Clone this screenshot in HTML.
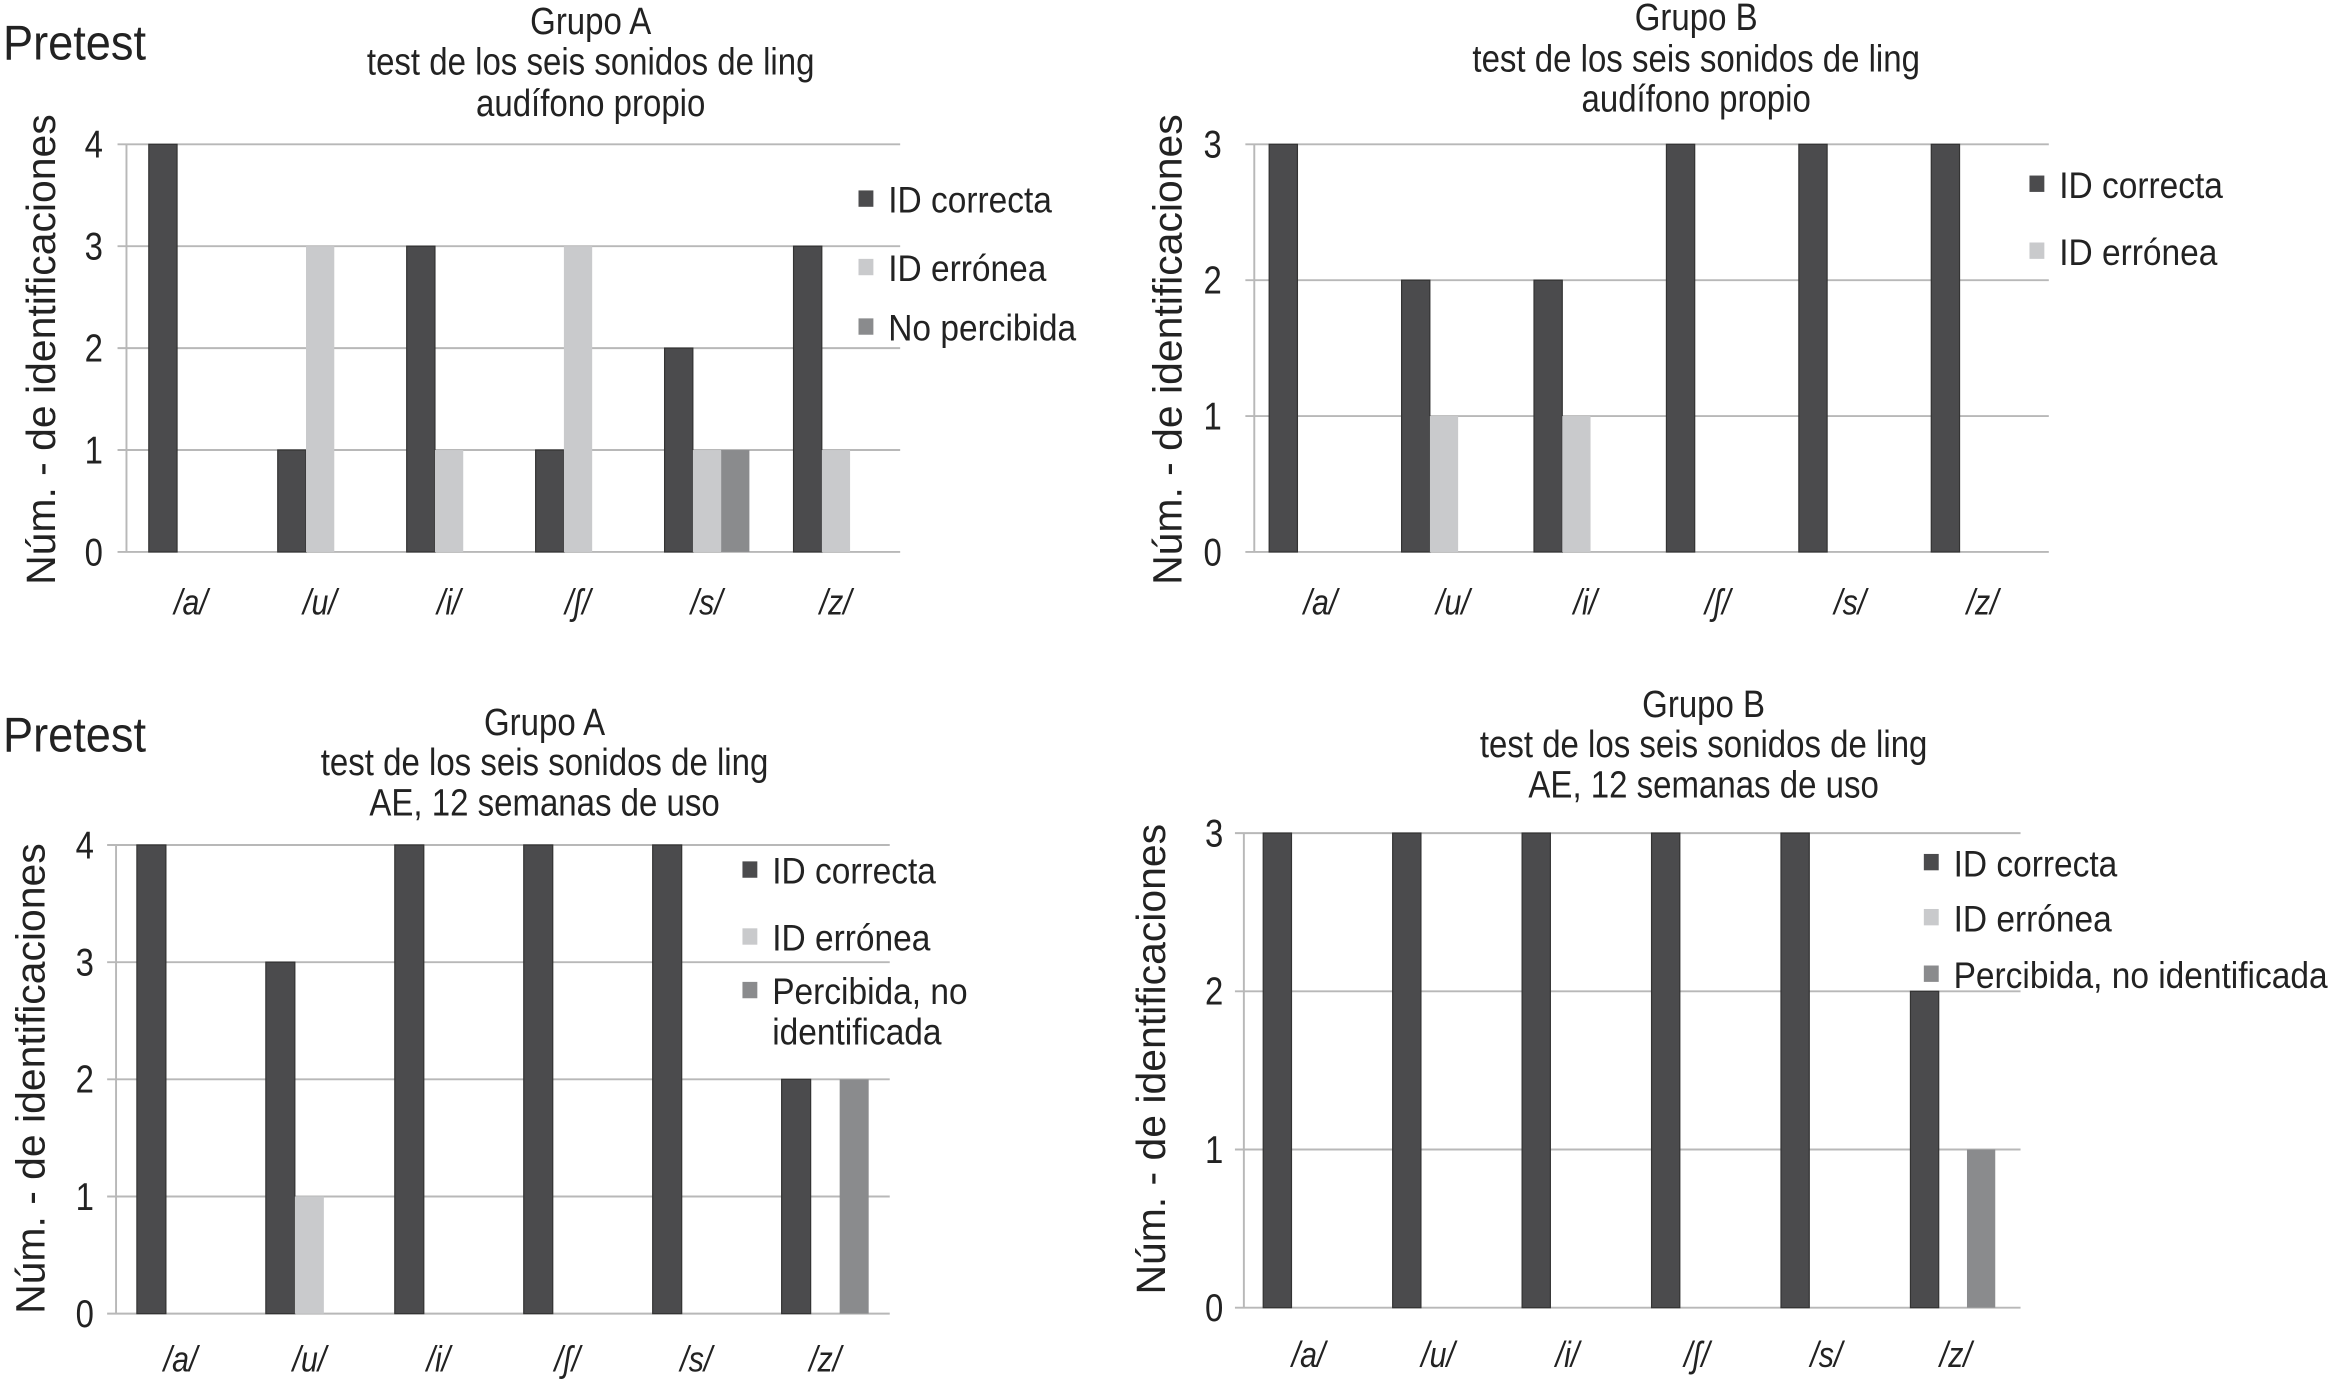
<!DOCTYPE html>
<html><head><meta charset="utf-8"><style>
html,body{margin:0;padding:0;background:#fff}
svg{display:block}
text{font-family:"Liberation Sans",sans-serif;fill:#222}
</style></head><body>
<svg id="fig" width="2333" height="1391" viewBox="0 0 1568 935" preserveAspectRatio="none" xmlns="http://www.w3.org/2000/svg"></svg>
<script>
const categories = ["/a/","/u/","/i/","/ʃ/","/s/","/z/"];
const c1Correct = [4,1,3,1,2,3];
const c1Wrong   = [0,3,1,3,1,1];
const c1NoPerc  = [0,0,0,0,1,0];
const c2Correct = [3,2,2,3,3,3];
const c2Wrong   = [0,1,1,0,0,0];
const c3Correct = [4,3,4,4,4,2];
const c3Wrong   = [0,1,0,0,0,0];
const c3Perc    = [0,0,0,0,0,2];
const c4Correct = [3,3,3,3,3,2];
const c4Wrong   = [0,0,0,0,0,0];
const c4Perc    = [0,0,0,0,0,1];
const ticks4 = [0,1,2,3,4];
const ticks3 = [0,1,2,3];

const NS="http://www.w3.org/2000/svg";
const svg=document.getElementById('fig');
const COLORS=["#4b4b4d","#c9cacc","#8a8b8d"];
function mk(tag,attrs,parent){const e=document.createElementNS(NS,tag);for(const k in attrs)e.setAttribute(k,attrs[k]);(parent||svg).appendChild(e);return e;}
function txt(str,attrs,parent){const e=mk('text',attrs,parent);e.textContent=str;return e;}

function chart(cfg){
  const g=mk('g',{});
  
  
  const {x0,x1,y0,yTop,max}=cfg;
  const ys=v=>y0-(y0-yTop)*v/max;
  const cw=(x1-x0)/categories.length;
  cfg.ticks.forEach(t=>{
    const l=mk('line',{x1:x0-6,x2:x1,y1:ys(t),y2:ys(t),stroke:'#b8b8b8','stroke-width':1.3},g);
    
    
    const tl=txt(String(t),{x:cfg.tickX,y:ys(t)+9,'text-anchor':'middle','font-size':26,transform:`translate(${cfg.tickX},0) scale(0.85,1) translate(${-cfg.tickX},0)`},g);
    
    
  });
  const ax=mk('line',{x1:x0,x2:x0,y1:yTop,y2:y0,stroke:'#b8b8b8','stroke-width':1.3},g);
  
  
  cfg.series.forEach((s,si)=>{
    s.forEach((v,ci)=>{
      if(v<=0)return;
      const bx=x0+ci*cw+cfg.off+si*cfg.bw;
      const r=mk('rect',{x:bx,y:ys(v),width:cfg.bw,height:y0-ys(v),fill:COLORS[cfg.colorIdx[si]],stroke:si===0?'#333':'none','stroke-width':0.8},g);
      
      
    });
  });
  categories.forEach((c,ci)=>{
    const cx=x0+(ci+0.5)*cw;
    const t=txt(c,{x:cx,y:cfg.xLabY,'text-anchor':'middle','font-size':24,'font-style':'italic',transform:`translate(${cx},0) scale(0.85,1) translate(${-cx},0)`},g);
    
    
  });
  const yt=txt('Núm. - de identificaciones',{x:0,y:0,'text-anchor':'middle','font-size':27.5,transform:`translate(${cfg.yTitleX},${cfg.yTitleY}) rotate(-90)`},g);
  
  
  cfg.title.forEach((line,i)=>{
    const t=txt(line,{x:cfg.titleX,y:cfg.titleY[i],'text-anchor':'middle','font-size':25.5,transform:`translate(${cfg.titleX},0) scale(0.87,1) translate(${-cfg.titleX},0)`},g);
    
    
  });
  cfg.legend.forEach((lg,i)=>{
    const r=mk('rect',{x:cfg.legX,y:cfg.legY[i]-15,width:10,height:11,fill:COLORS[lg.c]},g);
    
    
    lg.lines.forEach((ln,j)=>{
      const tx=cfg.legX+20;
      const t=txt(ln,{x:tx,y:cfg.legY[i]+j*27,'font-size':25,transform:`translate(${tx},0) scale(0.9,1) translate(${-tx},0)`},g);
      
      
    });
  });
}

const p1=txt('Pretest',{x:2,y:40,'font-size':33,transform:'translate(2,0) scale(0.92,1) translate(-2,0)'});


const p2=txt('Pretest',{x:2,y:505,'font-size':33,transform:'translate(2,0) scale(0.92,1) translate(-2,0)'});



chart({name:'chart-grupo-a-propio',x0:85,x1:605,y0:371,yTop:97,max:4,ticks:ticks4,tickX:63,
  series:[c1Correct,c1Wrong,c1NoPerc],colorIdx:[0,1,2],seriesNames:['correcta','erronea','no-percibida'],off:15,bw:19,
  xLabY:413,yTitleX:37,yTitleY:235,title:['Grupo A','test de los seis sonidos de ling','audífono propio'],titleX:397,
  titleY:[23,50,78],legX:577,legY:[143,189,229],
  legend:[{c:0,lines:['ID correcta']},{c:1,lines:['ID errónea']},{c:2,lines:['No percibida']}]});

chart({name:'chart-grupo-b-propio',x0:843,x1:1377,y0:371,yTop:97,max:3,ticks:ticks3,tickX:815,
  series:[c2Correct,c2Wrong],colorIdx:[0,1],seriesNames:['correcta','erronea'],off:10,bw:19,
  xLabY:413,yTitleX:794,yTitleY:235,title:['Grupo B','test de los seis sonidos de ling','audífono propio'],titleX:1140,
  titleY:[20,48,75],legX:1364,legY:[133,178],
  legend:[{c:0,lines:['ID correcta']},{c:1,lines:['ID errónea']}]});

chart({name:'chart-grupo-a-ae',x0:78,x1:598,y0:883,yTop:568,max:4,ticks:ticks4,tickX:57,
  series:[c3Correct,c3Wrong,c3Perc],colorIdx:[0,1,2],seriesNames:['correcta','erronea','percibida'],off:14,bw:19.5,
  xLabY:922,yTitleX:30,yTitleY:725,title:['Grupo A','test de los seis sonidos de ling','AE, 12 semanas de uso'],titleX:366,
  titleY:[494,521,548],legX:499,legY:[594,639,675],
  legend:[{c:0,lines:['ID correcta']},{c:1,lines:['ID errónea']},{c:2,lines:['Percibida, no','identificada']}]});

chart({name:'chart-grupo-b-ae',x0:836,x1:1358,y0:879,yTop:560,max:3,ticks:ticks3,tickX:816,
  series:[c4Correct,c4Wrong,c4Perc],colorIdx:[0,1,2],seriesNames:['correcta','erronea','percibida'],off:13,bw:19,
  xLabY:919,yTitleX:783,yTitleY:712,title:['Grupo B','test de los seis sonidos de ling','AE, 12 semanas de uso'],titleX:1145,
  titleY:[482,509,536],legX:1293,legY:[589,626,664],
  legend:[{c:0,lines:['ID correcta']},{c:1,lines:['ID errónea']},{c:2,lines:['Percibida, no identificada']}]});
</script>
</body></html>
